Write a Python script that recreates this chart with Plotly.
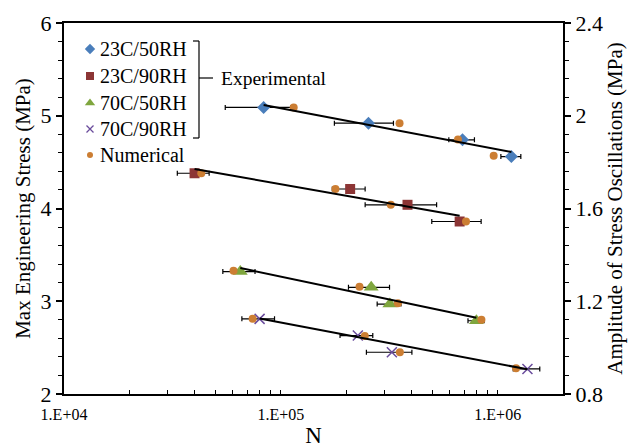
import plotly.graph_objects as go

# ---------------- data ----------------
n_23_50 = [83300, 253500, 688000, 1156000]
s_23_50 = [5.09, 4.92, 4.74, 4.56]
e_23_50 = [27900, 77000, 93000, 122000]
num_n_23_50 = [114600, 352600, 655700, 958000]
num_s_23_50 = [5.09, 4.92, 4.745, 4.57]
fit_n_23_50 = [83300, 1156000]
fit_s_23_50 = [5.115, 4.61]

n_23_90 = [40000, 208700, 383700, 667500]
s_23_90 = [4.38, 4.21, 4.04, 3.86]
e_23_90 = [6700, 36000, 139000, 171000]
num_n_23_90 = [42960, 178500, 321400, 714000]
num_s_23_90 = [4.38, 4.21, 4.04, 3.86]
fit_n_23_90 = [40000, 667500]
fit_s_23_90 = [4.426, 3.922]

n_70_50 = [65000, 261000, 318000, 797300]
s_70_50 = [3.32, 3.15, 2.97, 2.79]
e_70_50 = [11000, 56000, 40000, 68000]
num_n_70_50 = [60500, 230500, 346400, 841000]
num_s_70_50 = [3.33, 3.157, 2.978, 2.80]
fit_n_70_50 = [65000, 797300]
fit_s_70_50 = [3.358, 2.823]

n_70_90 = [79800, 226400, 325000, 1371000]
s_70_90 = [2.81, 2.63, 2.45, 2.27]
e_70_90 = [13700, 39000, 77000, 192000]
num_n_70_90 = [74100, 243800, 353800, 1215000]
num_s_70_90 = [2.81, 2.625, 2.45, 2.277]
fit_n_70_90 = [79800, 1371000]
fit_s_70_90 = [2.814, 2.266]

legend_labels = ["23C/50RH", "23C/90RH", "70C/50RH", "70C/90RH", "Numerical"]
x_tickvals = [1e4, 1e5, 1e6]
x_ticktext = ["1.E+04", "1.E+05", "1.E+06"]
x_minor = [2e4, 3e4, 4e4, 5e4, 6e4, 7e4, 8e4, 9e4,
           2e5, 3e5, 4e5, 5e5, 6e5, 7e5, 8e5, 9e5, 2e6]
yl_ticks = [2, 3, 4, 5, 6]
yr_ticks = [0.8, 1.2, 1.6, 2.0, 2.4]
yr_text = ["0.8", "1.2", "1.6", "2", "2.4"]

# ---------------- style ----------------
FONT = "Liberation Serif, Times New Roman, serif"
C_BLUE = "#4A7EBB"
C_RED = "#8C3535"
C_GREEN = "#7FA63E"
C_PURPLE = "#6A4C9C"
C_ORANGE = "#CC7E33"

series = [
    (n_23_50, s_23_50, e_23_50, num_n_23_50, num_s_23_50, fit_n_23_50, fit_s_23_50, "diamond", 10, C_BLUE),
    (n_23_90, s_23_90, e_23_90, num_n_23_90, num_s_23_90, fit_n_23_90, fit_s_23_90, "square", 10, C_RED),
    (n_70_50, s_70_50, e_70_50, num_n_70_50, num_s_70_50, fit_n_70_50, fit_s_70_50, "triangle-up", 13, C_GREEN),
    (n_70_90, s_70_90, e_70_90, num_n_70_90, num_s_70_90, fit_n_70_90, fit_s_70_90, "x-thin", 10, C_PURPLE),
]

fig = go.Figure()

for (n, s, e, nn, ns, fn, fs, sym, sz, col) in series:
    fig.add_trace(go.Scatter(
        x=n, y=s, mode="markers",
        marker=dict(symbol=sym, size=sz, color=col,
                    line=dict(color=col, width=1.5 if sym == "x-thin" else 0)),
        error_x=dict(type="data", array=e, symmetric=True, color="black",
                     thickness=1.2, width=2.5),
        showlegend=False, hoverinfo="skip"))
    fig.add_trace(go.Scatter(
        x=nn, y=ns, mode="markers",
        marker=dict(symbol="circle", size=8, color=C_ORANGE),
        showlegend=False, hoverinfo="skip"))
    fig.add_trace(go.Scatter(
        x=fn, y=fs, mode="lines", line=dict(color="black", width=2),
        showlegend=False, hoverinfo="skip"))

fig.add_trace(go.Scatter(x=[1e4], y=[0.8], yaxis="y2", mode="markers",
                         marker=dict(opacity=0), showlegend=False, hoverinfo="skip"))

# ---------------- custom legend ----------------
L, R, T, B = 64, 563, 23, 394
W, H = R - L, B - T
def fx(px): return (px - L) / W
def fy(py): return (B - py) / H

leg_rows = [49, 76, 103, 129, 155]
leg_syms = ["diamond", "square", "triangle-up", "x-thin", "circle"]
leg_cols = [C_BLUE, C_RED, C_GREEN, C_PURPLE, C_ORANGE]
leg_sizes = [8, 8, 9, 7, 6]
for lab, py, sym, col, sz in zip(legend_labels, leg_rows, leg_syms, leg_cols, leg_sizes):
    fig.add_trace(go.Scatter(
        x=[fx(90)], y=[fy(py)], xaxis="x3", yaxis="y3", mode="markers",
        marker=dict(symbol=sym, size=sz, color=col,
                    line=dict(color=col, width=1.3 if sym == "x-thin" else 0)),
        showlegend=False, hoverinfo="skip"))
    fig.add_annotation(x=fx(98), y=fy(py), xref="paper", yref="paper",
                       text=lab, showarrow=False, xanchor="left", yanchor="middle",
                       font=dict(family=FONT, size=20, color="black"))

for (x0, y0, x1, y1) in [(193, 41, 199, 41), (199, 41, 199, 138), (193, 138, 199, 138), (199, 78, 213, 78)]:
    fig.add_shape(type="line", xref="paper", yref="paper",
                  x0=fx(x0), y0=fy(y0), x1=fx(x1), y1=fy(y1),
                  line=dict(color="black", width=1.2))
fig.add_annotation(x=fx(219), y=fy(78), xref="paper", yref="paper",
                   text="Experimental", showarrow=False, xanchor="left", yanchor="middle",
                   font=dict(family=FONT, size=19.5, color="black"))

# ---------------- layout ----------------
fig.update_layout(
    width=633, height=448,
    margin=dict(l=L, r=633 - R, t=T, b=448 - B),
    paper_bgcolor="white", plot_bgcolor="white",
    font=dict(family=FONT, color="black"),
    xaxis=dict(type="log", range=[4, 6.301], tickvals=x_tickvals, ticktext=x_ticktext,
               ticks="inside", ticklen=4, tickwidth=1.2, tickcolor="black",
               minor=dict(tickvals=x_minor, ticks="inside", ticklen=4, tickcolor="black", tickwidth=1.2),
               showline=True, linecolor="black", linewidth=2, mirror=True,
               showgrid=False, zeroline=False, ticklabelstandoff=5, automargin=False,
               tickfont=dict(family=FONT, size=16),
               title=dict(text="N", font=dict(family=FONT, size=23), standoff=10)),
    yaxis=dict(range=[2, 6], tickvals=yl_ticks, ticks="outside", ticklen=6, tickwidth=1.5,
               tickcolor="black", automargin=False,
               minor=dict(dtick=0.2, ticks="outside", ticklen=4, tickcolor="black", tickwidth=1.2),
               showline=True, linecolor="black", linewidth=2, mirror=True,
               showgrid=False, zeroline=False,
               tickfont=dict(family=FONT, size=22),
               title=dict(text="Max Engineering Stress (MPa)", font=dict(family=FONT, size=21), standoff=4)),
    yaxis2=dict(overlaying="y", side="right", range=[0.8, 2.4], tickvals=yr_ticks, ticktext=yr_text,
                ticks="outside", ticklen=6, tickwidth=1.5, tickcolor="black", automargin=False,
                minor=dict(dtick=0.08, ticks="outside", ticklen=4, tickcolor="black", tickwidth=1.2),
                showline=True, linecolor="black", linewidth=2,
                showgrid=False, zeroline=False,
                tickfont=dict(family=FONT, size=22),
                title=dict(text="Amplitude of Stress Oscillations (MPa)", font=dict(family=FONT, size=21), standoff=2)),
    xaxis3=dict(overlaying="x", range=[0, 1], visible=False, fixedrange=True),
    yaxis3=dict(overlaying="y", range=[0, 1], visible=False, fixedrange=True),
)

fig.write_html("out.html")
